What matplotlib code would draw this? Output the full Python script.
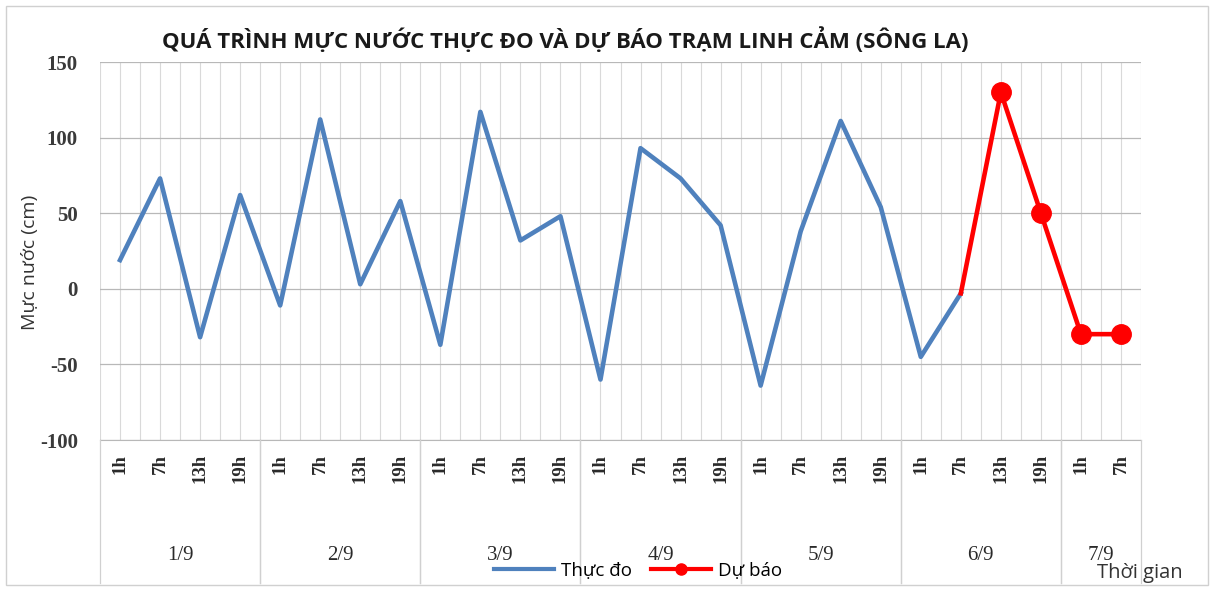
import matplotlib
matplotlib.use("Agg")
import matplotlib.pyplot as plt
from matplotlib.lines import Line2D
from matplotlib.patches import Rectangle

# ---- data ----
dates = ["1/9", "2/9", "3/9", "4/9", "5/9", "6/9", "7/9"]
hours_per_date = [["1h", "7h", "13h", "19h"]] * 6 + [["1h", "7h"]]
observed = [19, 73, -32, 62,
            -11, 112, 3, 58,
            -37, 117, 32, 48,
            -60, 93, 73, 42,
            -64, 38, 111, 54,
            -45, -3]
forecast_start = 21          # index of first forecast point (6/9 7h)
forecast = [-3, 130, 50, -30, -30]
y_ticks = [-100, -50, 0, 50, 100, 150]
title = "QUÁ TRÌNH MỰC NƯỚC THỰC ĐO VÀ DỰ BÁO TRẠM LINH CẢM (SÔNG LA)"

hour_labels = [h for hs in hours_per_date for h in hs]
n = len(hour_labels)

W, H = 1214, 589
fig = plt.figure(figsize=(W / 100, H / 100), dpi=100)
fig.patches.append(Rectangle((6 / W, 4 / H), 1 - 12 / W, 1 - 10 / H, transform=fig.transFigure,
                             fill=False, edgecolor="#d0d0d0", lw=1.0))

ax_l, ax_r, ax_t, ax_b = 100, 1141, 62, 440
ax = fig.add_axes([ax_l / W, 1 - ax_b / H, (ax_r - ax_l) / W, (ax_b - ax_t) / H])
ax.set_xlim(0, n)
ax.set_ylim(-100, 150)

# grid
for k in range(2 * n + 1):
    ax.axvline(k / 2, color="#d9d9d9", lw=0.8, zorder=0)
for yv in y_ticks:
    ax.axhline(yv, color="#b8b8b8", lw=0.9, zorder=0)

xs_obs = [i + 0.5 for i in range(len(observed))]
xs_fc = [forecast_start + i + 0.5 for i in range(len(forecast))]
ax.plot(xs_obs, observed, color="#4f81bd", lw=3.3, zorder=3)
ax.plot(xs_fc[:2], forecast[:2], color="#ff0000", lw=3.3, zorder=3)
ax.plot(xs_fc[1:], forecast[1:], color="#ff0000", lw=3.3, marker="o", ms=14, zorder=4)

ax.set_yticks(y_ticks)
ax.set_yticklabels([str(v) for v in y_ticks], fontsize=15, family="Liberation Serif", fontweight="bold",
                   color="#3a3a3a")
ax.tick_params(axis="y", length=0, pad=16)
ax.set_xticks([])
for s in ["top", "right", "left"]:
    ax.spines[s].set_visible(False)
ax.spines["bottom"].set_color("#b8b8b8")

# category labels below axis
def px_to_fig(x, y):
    return x / W, 1 - y / H

for i, lab in enumerate(hour_labels):
    xpx = ax_l + (i + 0.5) * (ax_r - ax_l) / n
    fx, fy = px_to_fig(xpx, 454)
    fig.text(fx, fy, lab, rotation=90, ha="center", va="top", fontsize=13.5, fontweight="bold",
             family="Liberation Serif", color="#2a2a2a")

# group labels and separators
start = 0
for d, hs in zip(dates, hours_per_date):
    end = start + len(hs)
    for b in (start, end):
        xpx = ax_l + b * (ax_r - ax_l) / n
        fig.add_artist(Line2D([xpx / W, xpx / W], [1 - ax_b / H, 1 - 583 / H],
                              transform=fig.transFigure, color="#d0d0d0", lw=0.9))
    xc = ax_l + (start + end) / 2 * (ax_r - ax_l) / n
    fx, fy = px_to_fig(xc, 555)
    fig.text(fx, fy, d, ha="center", va="center", fontsize=15, family="Liberation Serif", color="#2a2a2a")
    start = end

# title and axis labels
fig.text(565 / W, 1 - 40 / H, title, ha="center", va="center", fontsize=16, fontweight="bold",
         family="Open Sans", color="#1a1a1a")
fig.text(30 / W, 1 - 262 / H, "Mực nước (cm)", rotation=90, ha="center", va="center", fontsize=14,
         family="Open Sans", color="#333333")
fig.text(1140 / W, 1 - 573 / H, "Thời gian", ha="center", va="center", fontsize=14.5,
         family="Open Sans", color="#333333")

# legend
leg_handles = [Line2D([], [], color="#4f81bd", lw=3),
               Line2D([], [], color="#ff0000", lw=3, marker="o", ms=8)]
fig.legend(leg_handles, ["Thực đo", "Dự báo"], loc="center", bbox_to_anchor=(638 / W, 1 - 571 / H),
           ncol=2, frameon=False, handlelength=3.2, columnspacing=1.0, handletextpad=0.4,
           prop={"family": "Open Sans", "size": 13.5})

fig.savefig("out.png", dpi=100)
